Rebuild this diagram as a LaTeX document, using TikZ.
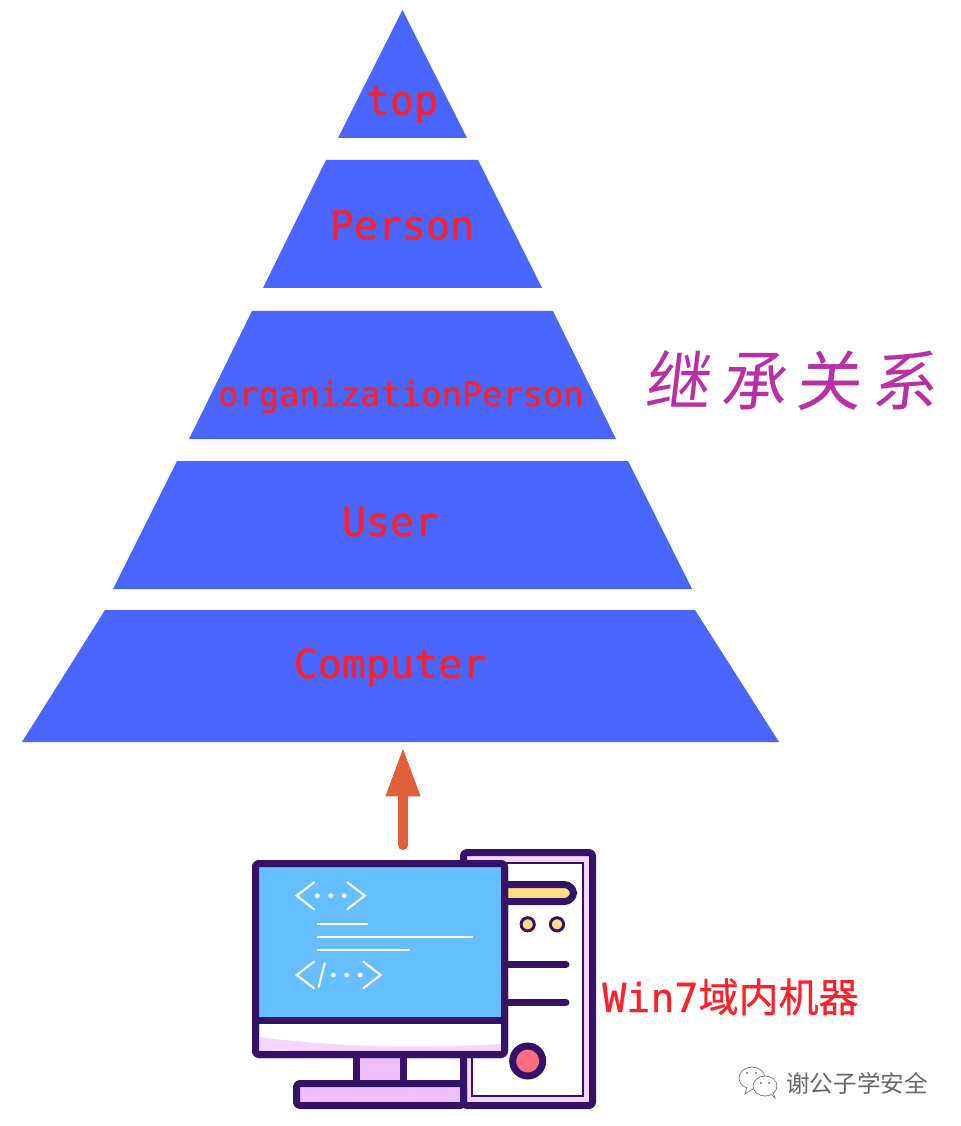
\documentclass[tikz,border=0pt]{standalone}
\usepackage{fontspec}
\usetikzlibrary{arrows.meta}
\setmainfont{DejaVu Sans Mono}
\newfontfamily\monofnt[FakeBold=0.6]{DejaVu Sans Mono}
\newfontfamily\cjkfnt{Noto Sans CJK SC}
\newfontfamily\cjkbold[FakeBold=0.6]{Noto Sans CJK SC}
\newfontfamily\callfnt[FakeSlant=0.12,LetterSpace=16]{Noto Sans CJK SC}
\definecolor{pyr}{HTML}{4A66FF}
\definecolor{lab}{HTML}{FF2028}
\definecolor{ink}{HTML}{341266}
\definecolor{pinkl}{HTML}{F6D6FC}
\definecolor{pinkm}{HTML}{EFBFFC}
\definecolor{scr}{HTML}{64BEFF}
\definecolor{yel}{HTML}{FFDD88}
\definecolor{redb}{HTML}{FF6B7F}
\definecolor{arr}{HTML}{E0603A}
\definecolor{mag}{HTML}{B92FA5}
\tikzset{
  x=0.75pt,y=-0.75pt,
  layer/.style={fill=pyr,draw=none},
  lbl/.style={text=lab,font=\monofnt\fontsize{30pt}{30pt}\selectfont,anchor=base,inner sep=0pt},
  hw/.style={draw=ink,line width=5.25pt,line join=round,rounded corners=2.5pt},
  bar/.style={draw=ink,line width=5.25pt,line cap=round},
  code/.style={draw=white,line width=1.6pt,line cap=round,line join=miter},
  dot/.style={fill=white,draw=none},
  wm/.style={draw=black!55,line width=0.5pt,fill=white}
}
\begin{document}
\begin{tikzpicture}
\useasboundingbox (0,0) rectangle (960,1126);
\fill[white] (0,0) rectangle (960,1126);
% pyramid
\fill[layer] (402.5,10) -- (467,138) -- (338,138) -- cycle;
\fill[layer] (326,160) -- (478,160) -- (542,288) -- (263,288) -- cycle;
\fill[layer] (252,311) -- (553,311) -- (616,439) -- (189,439) -- cycle;
\fill[layer] (177,461) -- (628,461) -- (692,589) -- (113,589) -- cycle;
\fill[layer] (105,610) -- (695,610) -- (779,742) -- (22,742) -- cycle;
\node[lbl] (ltop) at (402,114.5) {top};
\node[lbl] (lperson) at (402,239.5) {Person};
\node[lbl,font=\monofnt\fontsize{25.3pt}{25.3pt}\selectfont] (lorg) at (401,406) {organizationPerson};
\node[lbl] (luser) at (390,536) {User};
\node[lbl] (lcomp) at (390,678) {Computer};
% side title
\node[text=mag,font=\callfnt\fontsize{49pt}{49pt}\selectfont,anchor=base west,inner sep=0pt] (ltitle) at (644,405) {继承关系};
% arrow
\coordinate (atip) at (403,747);
\coordinate (abase) at (403,845);
\draw[arr,line width=7.5pt,line cap=round,-{Triangle[width=24pt,length=37pt]}] (abase) -- (atip);
% tower
\draw[hw,fill=pinkl] (463.5,852.5) rectangle (592.5,1105.5);
\draw[draw=ink,line width=1.2pt,fill=white] (472,863) rectangle (583,1096);
\draw[hw,fill=yel,rounded corners=7pt] (480,884.5) rectangle (573.5,901.5);
\draw[bar] (500,964) -- (566,964);
\draw[bar] (500,1002.3) -- (566,1002.3);
\draw[draw=ink,line width=2.2pt,fill=yel] (527.7,924.3) circle[radius=6.6];
\draw[draw=ink,line width=2.2pt,fill=yel] (557,924.3) circle[radius=6.6];
\draw[draw=ink,line width=5.25pt,fill=redb] (527.7,1061) circle[radius=15];
% stand and base
\draw[hw,fill=pinkm,rounded corners=0pt] (356.5,1050) rectangle (403.5,1086);
\draw[hw,fill=pinkm] (296.5,1083.5) rectangle (463.5,1105.5);
% monitor
\draw[hw,fill=white] (255.5,863.5) rectangle (504.5,1054.5);
\fill[pinkl] (259,1037) .. controls (340,1048) and (430,1048) .. (501,1044) -- (501,1051) -- (259,1051) -- cycle;
\fill[scr] (259,867) rectangle (501,1017);
\draw[hw] (255.5,863.5) rectangle (504.5,1054.5);
\draw[draw=ink,line width=5.25pt] (255.5,1020) -- (504.5,1020);
% code icon
\draw[code] (314,882.3) -- (296.7,895.7) -- (314,909.3);
\draw[code] (347.3,882.3) -- (364.7,895.7) -- (347.3,909.3);
\foreach \px in {317.3,330.7,344.3} \fill[dot] (\px,895.7) circle[radius=2.4];
\draw[code] (317.7,924.3) -- (367,924.3);
\draw[code] (317.7,937.3) -- (472.3,937.3);
\draw[code] (317.7,949.7) -- (409,949.7);
\draw[code] (314,961.7) -- (296.7,975) -- (314,988.3);
\draw[code] (324.7,963.3) -- (318.7,986.7);
\draw[code] (363.3,961.7) -- (380.7,975) -- (363.3,988.3);
\foreach \px in {333.3,346.7,360.3} \fill[dot] (\px,975) circle[radius=2.4];
% machine label
\node[text=lab,anchor=base west,inner sep=0pt,font=\monofnt\fontsize{30pt}{30pt}\selectfont] (lwin) at (602,1012) {Win7{\cjkbold\fontsize{30pt}{30pt}\selectfont 域内机器}};
% watermark
\draw[wm] (752,1078) ellipse[x radius=13,y radius=11];
\draw[wm] (747,1087) -- (745,1094) -- (753,1089);
\draw[wm] (765,1086) ellipse[x radius=12,y radius=10];
\draw[wm] (771,1094) -- (775,1098) -- (773,1092);
\foreach \px/\py in {747/1073,756/1073,761/1083,769/1083} \fill[black!55] (\px,\py) circle[radius=1.1];
\node[text=black!60,anchor=base west,inner sep=0pt,font=\cjkfnt\fontsize{17.7pt}{17.7pt}\selectfont] (lwm) at (786,1092) {谢公子学安全};
\end{tikzpicture}
\end{document}
